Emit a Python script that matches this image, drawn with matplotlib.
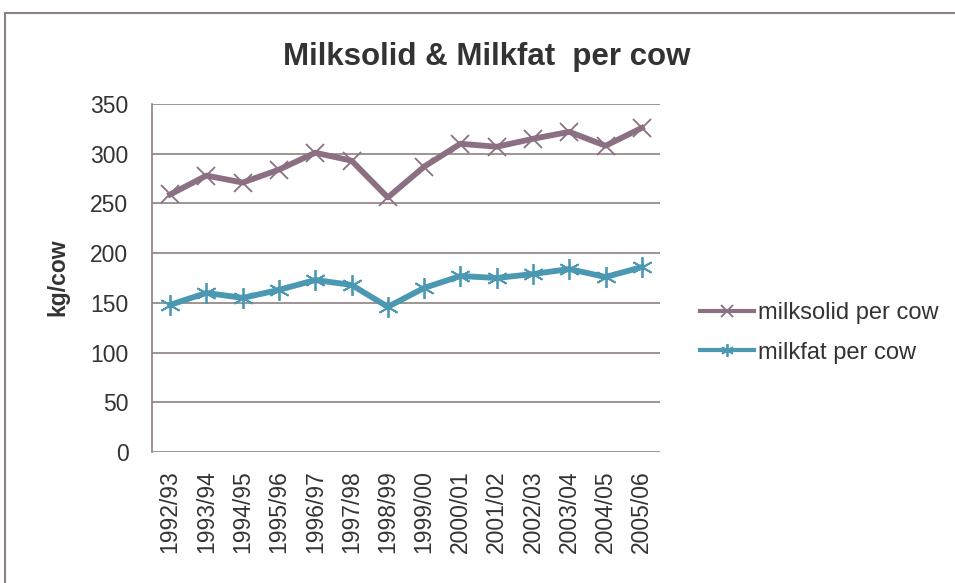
import matplotlib
matplotlib.use("Agg")
import matplotlib.pyplot as plt

plt.rcParams['font.family'] = ['Liberation Sans', 'DejaVu Sans']

seasons = ["1992/93", "1993/94", "1994/95", "1995/96", "1996/97", "1997/98",
           "1998/99", "1999/00", "2000/01", "2001/02", "2002/03", "2003/04",
           "2004/05", "2005/06"]
milksolid = [259, 278, 271, 284, 301, 293, 256, 287, 310, 307, 315, 322, 308, 326]
milkfat = [148, 160, 155, 163, 173, 168, 146, 165, 177, 175, 179, 184, 176, 186]

text_col = "#333333"
grid_col = "#8c8180"
W, H = 955, 583

fig = plt.figure(figsize=(W / 100, H / 100), dpi=100)
# chart area border (only top and left edges visible)
fig.add_artist(plt.Line2D([5 / W, 1], [1 - 13 / H] * 2, color=grid_col, lw=1.5))
fig.add_artist(plt.Line2D([5 / W] * 2, [0, 1 - 13 / H], color=grid_col, lw=1.5))

ax = fig.add_axes([152 / W, 1 - 452 / H, (660 - 152) / W, (452 - 104) / H])
x = range(len(seasons))
ax.plot(x, milksolid, color="#8b6f83", lw=4.2, marker="x", ms=13, mew=1.3,
        label="milksolid per cow")
ax.plot(x, milkfat, color="#4a98b2", lw=4.2, marker=(6, 2, 0), ms=15, mew=1.3,
        label="milkfat per cow")

ax.set_ylim(0, 350)
ax.set_xlim(-0.5, len(seasons) - 0.5)
ax.set_yticks(range(0, 351, 50))
ax.yaxis.grid(True, color=grid_col, lw=1.2)
ax.set_axisbelow(True)
ax.set_xticks(list(x))
ax.set_xticklabels(seasons, rotation=90)
ax.tick_params(axis="both", length=0, labelsize=16.5, colors=text_col)
ax.tick_params(axis="y", pad=17)
ax.tick_params(axis="x", pad=13)
for s in ["top", "right", "bottom"]:
    ax.spines[s].set_visible(False)
ax.spines["left"].set_color(grid_col)
ax.spines["left"].set_linewidth(1.2)

fig.text(58 / W, 1 - 277 / H, "kg/cow", rotation=90, ha="center", va="center",
         fontsize=16.5, fontweight="bold", color=text_col)
fig.text(487 / W, 1 - 57 / H, "Milksolid & Milkfat  per cow", ha="center",
         va="center", fontsize=22.5, fontweight="bold", color=text_col)

leg = fig.legend(loc="center left", bbox_to_anchor=(700 / W, 1 - 333 / H),
                 frameon=False, fontsize=17, handlelength=2.3,
                 handletextpad=0.15, labelspacing=0.72, borderpad=0,
                 borderaxespad=0)
for t in leg.get_texts():
    t.set_color(text_col)
for h in leg.legend_handles:
    h.set_linewidth(3)
    h.set_markersize(9)

fig.savefig("out.png", dpi=100)
